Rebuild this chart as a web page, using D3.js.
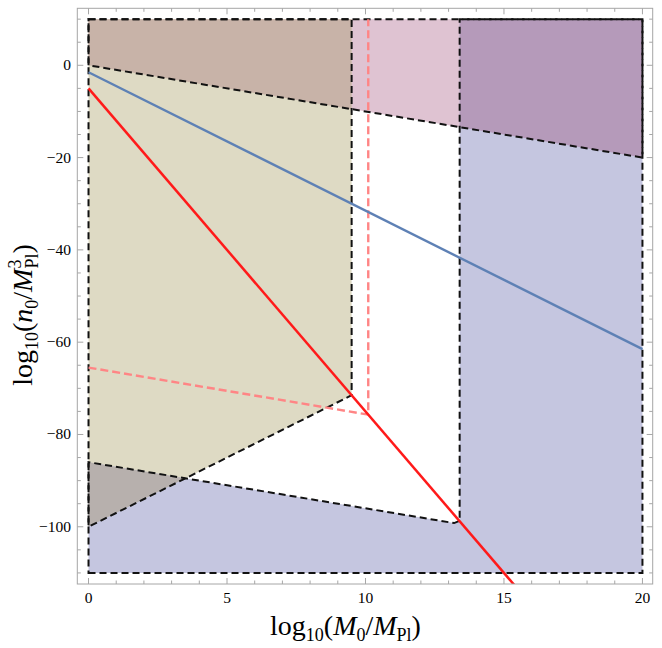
<!DOCTYPE html>
<html>
<head>
<meta charset="utf-8">
<script src="https://cdn.jsdelivr.net/npm/d3@7"></script>
<style>
  html, body { margin: 0; padding: 0; background: #fff; }
  svg { display: block; }
  text { font-family: "Liberation Serif", "DejaVu Serif", serif; fill: #000; }
</style>
</head>
<body>
<svg id="chart" width="662" height="648"></svg>
<script>
// ---------------- data ----------------
const xDomain = [-0.405, 20.37];
const yDomain = [-112.4, 12.35];
const xMajorTicks = [0, 5, 10, 15, 20];
const xMinorTicks = d3.range(0, 21, 1);
const yMajorTicks = [0, -20, -40, -60, -80, -100];
const yMinorTicks = d3.range(-110, 11, 5);

// region A: pink band above the line n = -M
const regionA = [[0, 10], [20, 10], [20, -20], [0, 0]];
// region B: olive region on the left
const regionB = [[0, 10], [9.5, 10], [9.5, -71.5], [0, -100]];
// region C: blue region lower / right
const regionC = [[0, -110], [20, -110], [20, 10], [13.4, 10], [13.4, -98.7], [13.2, -99.2], [0, -86]];
// overlaps
const overlapAB = [[0, 10], [9.5, 10], [9.5, -9.5], [0, 0]];
const overlapAC = [[13.4, 10], [20, 10], [20, -20], [13.4, -13.4]];
const overlapBC = [[0, -86], [3.5, -89.5], [0, -100]];

const blueLine = [[0, -1.5], [20, -61.5]];
const redLine = [[0, -5], [16, -117]];
const pinkDashed = [[0, -65.5], [10.1, -75.7], [10.1, 10]];

// ---------------- layout ----------------
const frame = { left: 77.3, right: 652.7, top: 8.3, bottom: 584 };
const svg = d3.select("#chart");
const x = d3.scaleLinear().domain(xDomain).range([frame.left, frame.right]);
const y = d3.scaleLinear().domain(yDomain).range([frame.bottom, frame.top]);

svg.append("defs").append("clipPath").attr("id", "clip")
  .append("rect")
  .attr("x", frame.left).attr("y", frame.top)
  .attr("width", frame.right - frame.left).attr("height", frame.bottom - frame.top);

const plot = svg.append("g").attr("clip-path", "url(#clip)");
const line = d3.line().x(d => x(d[0])).y(d => y(d[1]));
const poly = pts => line(pts) + "Z";

// fills
const fills = [
  [regionA, "#dfc3d2"],
  [regionB, "#dedac4"],
  [regionC, "#c5c6e0"],
  [overlapAB, "#c8b3a8"],
  [overlapAC, "#b59aba"],
  [overlapBC, "#b7b0ad"]
];
fills.forEach(([pts, c]) => {
  plot.append("path").attr("d", poly(pts)).attr("fill", c).attr("stroke", "none");
});

// dashed boundaries
[regionA, regionB, regionC].forEach(pts => {
  plot.append("path").attr("d", poly(pts))
    .attr("fill", "none").attr("stroke", "#111")
    .attr("stroke-width", 2).attr("stroke-dasharray", "7,4");
});

// pink dashed
plot.append("path").attr("d", line(pinkDashed))
  .attr("fill", "none").attr("stroke", "#ff8585")
  .attr("stroke-width", 2.4).attr("stroke-dasharray", "8,4");

// blue line
plot.append("path").attr("d", line(blueLine))
  .attr("fill", "none").attr("stroke", "#5e81b5").attr("stroke-width", 2.4);

// red line
plot.append("path").attr("d", line(redLine))
  .attr("fill", "none").attr("stroke", "#ff1a1a").attr("stroke-width", 2.5);

// ---------------- frame & ticks ----------------
const frameColor = "#a6a6a6";
const ax = svg.append("g");
ax.append("rect")
  .attr("x", frame.left).attr("y", frame.top)
  .attr("width", frame.right - frame.left).attr("height", frame.bottom - frame.top)
  .attr("fill", "none").attr("stroke", frameColor).attr("stroke-width", 1);

const major = 6, minor = 3.5;
function tick(x1, y1, x2, y2) {
  ax.append("line").attr("x1", x1).attr("y1", y1).attr("x2", x2).attr("y2", y2)
    .attr("stroke", frameColor).attr("stroke-width", 1);
}
xMinorTicks.forEach(v => {
  const L = xMajorTicks.includes(v) ? major : minor;
  tick(x(v), frame.bottom, x(v), frame.bottom - L);
  tick(x(v), frame.top, x(v), frame.top + L);
});
yMinorTicks.forEach(v => {
  const L = yMajorTicks.includes(v) ? major : minor;
  tick(frame.left, y(v), frame.left + L, y(v));
  tick(frame.right, y(v), frame.right - L, y(v));
});

const fmt = v => v < 0 ? "\u2212" + Math.abs(v) : String(v);
xMajorTicks.forEach(v => {
  ax.append("text").attr("x", x(v)).attr("y", 603)
    .attr("text-anchor", "middle").attr("font-size", 15.5).text(fmt(v));
});
yMajorTicks.forEach(v => {
  ax.append("text").attr("x", 71).attr("y", y(v) + 5)
    .attr("text-anchor", "end").attr("font-size", 15.5).text(fmt(v));
});

// ---------------- axis titles ----------------
const fs = 28, sub = 18;
const xt = svg.append("text").attr("x", 345.5).attr("y", 635)
  .attr("text-anchor", "middle").attr("font-size", fs);
xt.append("tspan").text("log");
xt.append("tspan").attr("font-size", sub).attr("dy", 6).text("10");
xt.append("tspan").attr("dy", -6).text("(");
xt.append("tspan").attr("font-style", "italic").text("M");
xt.append("tspan").attr("font-size", sub).attr("dy", 6).text("0");
xt.append("tspan").attr("dy", -6).text("/");
xt.append("tspan").attr("font-style", "italic").text("M");
xt.append("tspan").attr("font-size", sub).attr("dy", 6).text("Pl");
xt.append("tspan").attr("dy", -6).text(")");

const yt = svg.append("text").attr("transform", "translate(32,315) rotate(-90)")
  .attr("text-anchor", "middle").attr("font-size", fs);
yt.append("tspan").text("log");
yt.append("tspan").attr("font-size", sub).attr("dy", 6).text("10");
yt.append("tspan").attr("dy", -6).text("(");
yt.append("tspan").attr("font-style", "italic").text("n");
yt.append("tspan").attr("font-size", sub).attr("dy", 6).text("0");
yt.append("tspan").attr("dy", -6).text("/");
yt.append("tspan").attr("font-style", "italic").text("M");
yt.append("tspan").attr("font-size", sub).attr("dy", -11).text("3");
yt.append("tspan").attr("font-size", sub).attr("dx", -9).attr("dy", 17).text("Pl");
yt.append("tspan").attr("dy", -6).text(")");
</script>
</body>
</html>
